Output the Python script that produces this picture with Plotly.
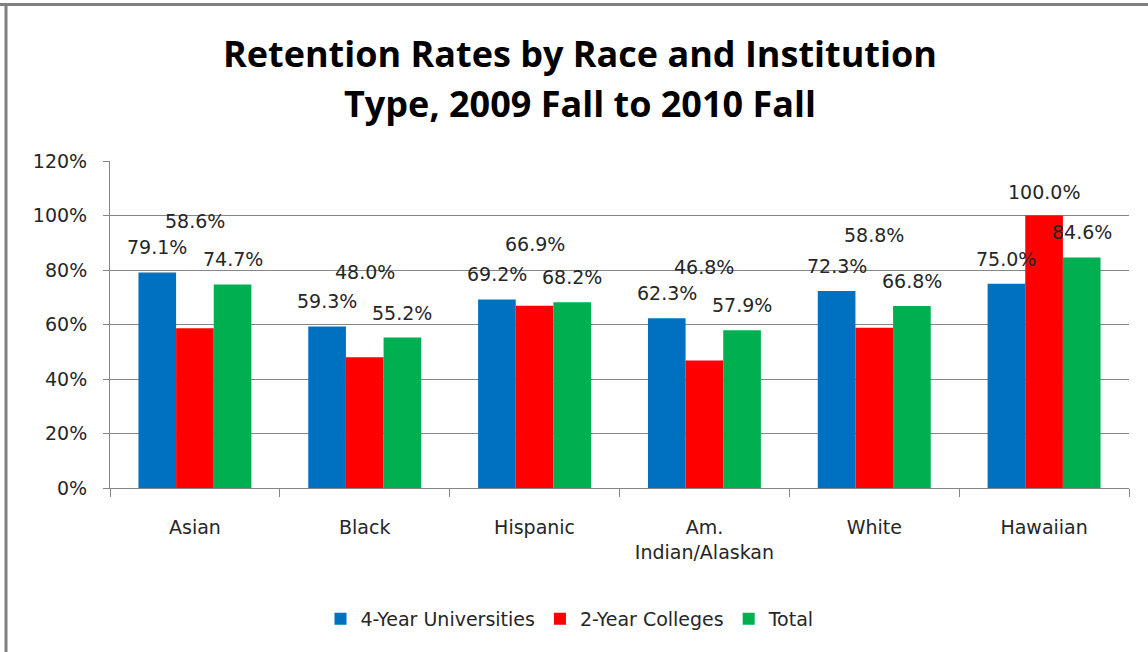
import plotly.graph_objects as go

categories = ["Asian", "Black", "Hispanic", "Am. Indian/Alaskan", "White", "Hawaiian"]
tick_labels = ["Asian", "Black", "Hispanic", "Am.<br>Indian/Alaskan", "White", "Hawaiian"]
univ_4yr = [79.1, 59.3, 69.2, 62.3, 72.3, 75.0]
college_2yr = [58.6, 48.0, 66.9, 46.8, 58.8, 100.0]
total = [74.7, 55.2, 68.2, 57.9, 66.8, 84.6]
series_names = ["4-Year Universities", "2-Year Colleges", "Total"]

# styling / label placement (pixels above bar top)
colors = ["#0070C0", "#FF0000", "#00B050"]
label_shift_default = 25
red_label_shift = [107, 85, 62, 93, 93, 24]

W, H = 1148, 652
ML, MR, MT, MB = 110, 19, 161, 164
BARGAP = 0.335
FONT = "DejaVu Sans"
TXT = "#262626"
GRID = "#868686"

xs = list(range(len(categories)))
series = [univ_4yr, college_2yr, total]

fig = go.Figure()
for name, vals, col in zip(series_names, series, colors):
    fig.add_trace(go.Bar(x=xs, y=vals, name=name, marker=dict(color=col, line=dict(width=0))))

bw = (1 - BARGAP) / 3
annotations = []
for k, vals in enumerate(series):
    for i, v in enumerate(vals):
        shift = red_label_shift[i] if k == 1 else label_shift_default
        annotations.append(dict(
            x=i + (k - 1) * bw, y=v, xref="x", yref="y",
            text=f"{v:.1f}%", showarrow=False, yanchor="middle", xanchor="center",
            yshift=shift, font=dict(family=FONT, size=19, color=TXT)))

ph = H - MT - MB
pw = W - ML - MR
def py(p):
    return (H - MB - p) / ph
def px(p):
    return (p - ML) / pw

title_font = dict(family="Open Sans", size=36, color="#000000", weight="bold")
annotations.append(dict(x=(580 - ML) / pw, y=py(54), xref="paper", yref="paper",
                        text="<b>Retention Rates by Race and Institution</b>", showarrow=False,
                        xanchor="center", yanchor="middle", font=title_font))
annotations.append(dict(x=(580 - ML) / pw, y=py(104), xref="paper", yref="paper",
                        text="<b>Type, 2009 Fall to 2010 Fall</b>", showarrow=False,
                        xanchor="center", yanchor="middle", font=title_font))

shapes = [
    dict(type="line", xref="paper", yref="paper", x0=px(0), x1=px(W), y0=py(4.5), y1=py(4.5),
         line=dict(color="#808080", width=3)),
    dict(type="line", xref="paper", yref="paper", x0=px(6), x1=px(6), y0=py(3), y1=py(H),
         line=dict(color="#808080", width=3)),
]

fig.update_layout(
    width=W, height=H,
    margin=dict(l=ML, r=MR, t=MT, b=MB, autoexpand=False),
    paper_bgcolor="white", plot_bgcolor="white",
    barmode="group", bargap=BARGAP, bargroupgap=0,
    font=dict(family=FONT, size=19, color=TXT),
    xaxis=dict(range=[-0.5, 5.5], tickvals=xs, ticktext=tick_labels, ticks="",
               showline=True, linecolor=GRID, linewidth=1, showgrid=False, zeroline=False,
               ticklabelstandoff=22,
               minor=dict(tick0=-0.5, dtick=1, ticks="outside", ticklen=8, tickcolor=GRID, showgrid=False),
               tickfont=dict(family=FONT, size=19, color=TXT)),
    yaxis=dict(range=[0, 120], dtick=20, ticksuffix="%", showgrid=True, gridcolor=GRID, gridwidth=1,
               showline=True, linecolor=GRID, linewidth=1, ticks="outside", ticklen=6, tickcolor=GRID,
               zeroline=False, ticklabelstandoff=12,
               tickfont=dict(family=FONT, size=19, color=TXT)),
    legend=dict(orientation="h", x=(570 - ML) / pw, xanchor="center", y=py(619), yanchor="middle",
                font=dict(family=FONT, size=19, color=TXT), bgcolor="rgba(0,0,0,0)"),
    annotations=annotations, shapes=shapes,
)

fig.write_html("out.html", config={"displayModeBar": False},
               post_script="document.body.style.margin='0';document.body.style.overflow='hidden';")
